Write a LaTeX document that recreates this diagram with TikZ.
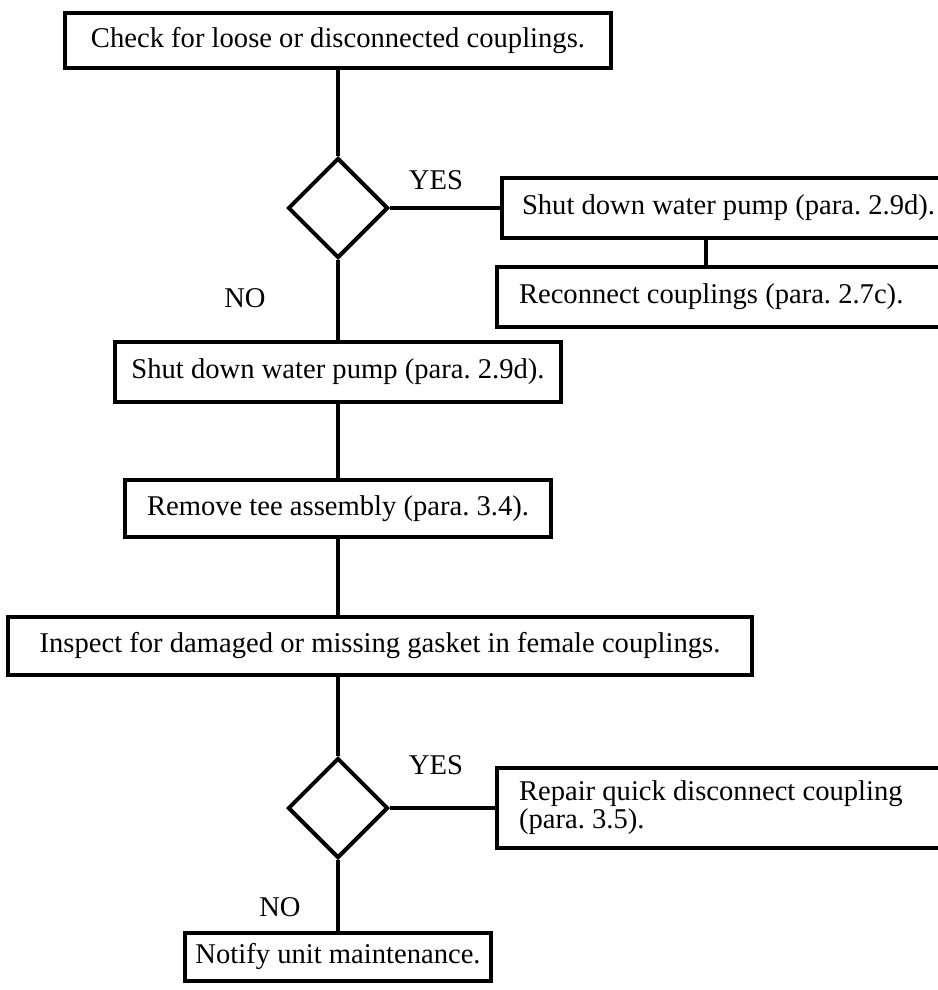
\documentclass[tikz,border=0pt]{standalone}
\usepackage{fontspec}
\setmainfont{Liberation Serif}
\usetikzlibrary{shapes.geometric}

\begin{document}
\begin{tikzpicture}[x=0.5pt, y=-0.5pt, line width=2pt,
    txt/.style={font=\fontsize{14.3}{16.5}\selectfont\frenchspacing},
    block/.style={draw, txt, inner sep=0pt},
    sideblock/.style={block, anchor=west, align=flush left, text width=240pt, inner xsep=10pt},
    decision/.style={diamond, draw, minimum size=50pt, inner sep=0pt},]
    \useasboundingbox (0,0) rectangle (937,990);
    \node[block, minimum width=273pt, minimum height=27.5pt] (check) at (338,40.5) {Check for loose or disconnected couplings.};
    \node[decision] (dec1) at (338,208) {};
    \node[sideblock, minimum height=30pt] (shutR) at (500,208) {Shut down water pump (para. 2.9d).};
    \node[sideblock, inner xsep=11pt, minimum height=30pt] (recon) at (495,297) {Reconnect couplings (para. 2.7c).};
    \node[block, minimum width=223pt, minimum height=30pt] (shutL) at (338,372) {Shut down water pump (para. 2.9d).};
    \node[block, minimum width=213pt, minimum height=28.5pt] (remove) at (338,508.5) {Remove tee assembly (para. 3.4).};
    \node[block, minimum width=372pt, minimum height=29pt] (inspect) at (380,646) {Inspect for damaged or missing gasket in female couplings.};
    \node[decision] (dec2) at (338,808) {};
    \node[sideblock, inner xsep=11pt, minimum height=40pt, font=\fontsize{14.3}{14}\selectfont\frenchspacing] (repair) at (495,808) {Repair quick disconnect coupling\\(para. 3.5).};
    \node[block, minimum width=153pt, minimum height=24pt] (notify) at (338,957) {Notify unit maintenance.};
    \node[txt] (yes1) at (436,180) {YES};
    \node[txt] (no1) at (245,298) {NO};
    \node[txt] (yes2) at (436,765) {YES};
    \node[txt] (no2) at (280,907) {NO};
    \draw (check) -- (dec1);
    \draw (dec1) -- (shutR);
    \draw ([xshift=103pt]shutR.south west) -- ([xshift=103pt]shutR.south west |- recon.north);
    \draw (dec1) -- (shutL);
    \draw (shutL) -- (remove);
    \draw (remove) -- (remove |- inspect.north);
    \draw (dec2 |- inspect.south) -- (dec2);
    \draw (dec2) -- (repair);
    \draw (dec2) -- (notify);
\end{tikzpicture}
\end{document}
